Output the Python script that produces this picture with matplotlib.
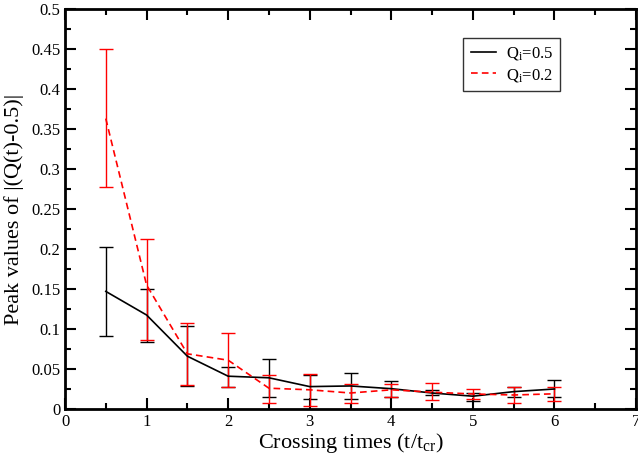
import matplotlib
matplotlib.use("Agg")
import matplotlib.pyplot as plt
from matplotlib.ticker import MultipleLocator
from matplotlib.lines import Line2D

plt.rcParams['font.family'] = ['Liberation Serif', 'DejaVu Serif']
plt.rcParams['mathtext.fontset'] = 'custom'
plt.rcParams['mathtext.rm'] = 'Liberation Serif'
plt.rcParams['mathtext.it'] = 'Liberation Serif'

x = [0.5, 1.0, 1.5, 2.0, 2.5, 3.0, 3.5, 4.0, 4.5, 5.0, 5.5, 6.0]

q05 = [0.147, 0.1175, 0.066, 0.041, 0.039, 0.028, 0.0288, 0.0254, 0.020, 0.016, 0.0217, 0.025]
q05_lo = [0.0916, 0.084, 0.029, 0.028, 0.0146, 0.013, 0.012, 0.0154, 0.017, 0.0104, 0.0154, 0.0146]
q05_hi = [0.2025, 0.1496, 0.104, 0.053, 0.062, 0.043, 0.0446, 0.035, 0.024, 0.020, 0.028, 0.0367]

q02 = [0.363, 0.155, 0.069, 0.061, 0.026, 0.024, 0.020, 0.024, 0.021, 0.0188, 0.0175, 0.019]
q02_lo = [0.278, 0.086, 0.030, 0.027, 0.008, 0.004, 0.008, 0.0154, 0.011, 0.012, 0.008, 0.0104]
q02_hi = [0.4496, 0.213, 0.108, 0.095, 0.0425, 0.044, 0.031, 0.031, 0.033, 0.0254, 0.027, 0.027]

labels = [r'Q$_\mathrm{i}$=0.5', r'Q$_\mathrm{i}$=0.2']

fig = plt.figure(figsize=(6.38, 4.58), dpi=100)
ax = fig.add_axes([65/638, 1 - 409/458, (636-65)/638, (409-9)/458])

def err(v, lo, hi):
    return [[a - b for a, b in zip(v, lo)], [c - a for a, c in zip(v, hi)]]

ax.errorbar(x, q05, yerr=err(q05, q05_lo, q05_hi), color='black', lw=1.2,
            capsize=5, elinewidth=1, capthick=1)
ax.errorbar(x, q02, yerr=err(q02, q02_lo, q02_hi), color='#ff0000', lw=1.2, ls='--',
            dashes=(4, 2.5), capsize=5, elinewidth=1, capthick=1)

ax.set_xlim(0, 7)
ax.set_ylim(0, 0.5)
ax.xaxis.set_major_locator(MultipleLocator(1))
ax.xaxis.set_minor_locator(MultipleLocator(0.5))
ax.yaxis.set_major_locator(MultipleLocator(0.05))
ax.yaxis.set_minor_locator(MultipleLocator(0.025))
ax.yaxis.set_major_formatter(plt.FuncFormatter(lambda v, p: ('%g' % round(v, 3))))
ax.tick_params(which='both', direction='in', top=True, right=True, labelsize=12, width=1.5)
ax.tick_params(which='major', length=8)
ax.tick_params(which='minor', length=4)
for s in ax.spines.values():
    s.set_linewidth(2)

ax.set_xlabel(r'Crossing times (t/t$_\mathrm{cr}$)', fontsize=16, labelpad=1)
ax.set_ylabel('Peak values of |(Q(t)-0.5)|', fontsize=16, labelpad=5)

handles = [Line2D([], [], color='black', lw=1.2),
           Line2D([], [], color='#ff0000', lw=1.2, ls='--', dashes=(4, 2.5))]
leg = ax.legend(handles, labels, loc='upper left', bbox_to_anchor=((463-65)/571, 1 - (38-9)/400),
                borderaxespad=0, fontsize=12, frameon=True, fancybox=False, edgecolor='black',
                handlelength=1.5, handletextpad=0.6, borderpad=0.45, labelspacing=0.25)
leg.get_frame().set_linewidth(1)

fig.savefig('out.png', dpi=100)
